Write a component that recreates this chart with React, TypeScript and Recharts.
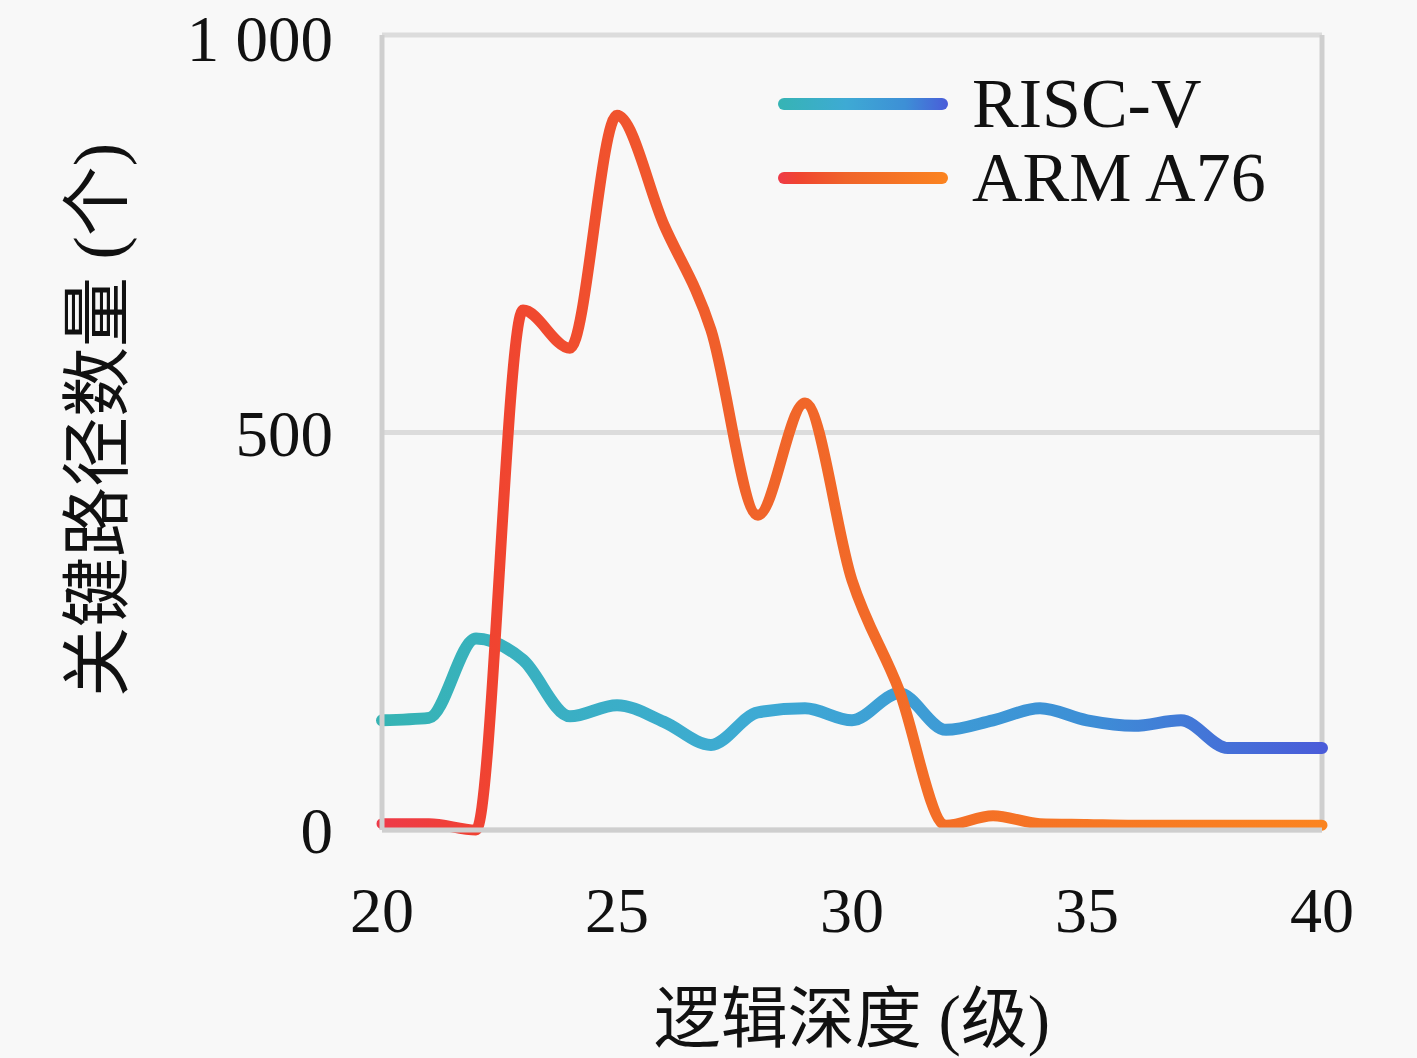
import {
  LineChart,
  Line,
  XAxis,
  YAxis,
  CartesianGrid,
  Legend,
  ReferenceLine,
} from "recharts";

const depth = [20, 21, 22, 23, 24, 25, 26, 27, 28, 29, 30, 31, 32, 33, 34, 35, 36, 37, 38, 39, 40];
const riscV = [138, 141, 241, 214, 143, 157, 136, 107, 148, 153, 138, 172, 126, 138, 153, 138, 131, 138, 103, 103, 103];
const armA76 = [8, 8, 0, 654, 606, 899, 761, 629, 396, 537, 314, 176, 6, 18, 8, 7, 6, 6, 6, 6, 6];

const xTicks = [20, 25, 30, 35, 40];
const yTicks = [0, 500, 1000];

const seriesNames = ["RISC-V", "ARM A76"];

const data = depth.map((d, i) => ({ depth: d, riscV: riscV[i], arm: armA76[i] }));

const FONT = '"Liberation Serif", "Noto Sans CJK SC", serif';
const GRID = "#dcdcdc";
const AXIS = "#cfcfcf";

const riscStops = [
  ["0%", "#36b4b4"],
  ["40%", "#3eaad4"],
  ["75%", "#3d8fd6"],
  ["100%", "#4a5cd9"],
];
const armStops = [
  ["0%", "#ee3a48"],
  ["12%", "#f04430"],
  ["40%", "#f0642a"],
  ["100%", "#fb8420"],
];

function Stops({ stops }: { stops: string[][] }) {
  return (
    <>
      {stops.map(([o, c]) => (
        <stop key={o} offset={o} stopColor={c} />
      ))}
    </>
  );
}

function LegendBox() {
  const rows = [
    { name: seriesNames[0], id: "lgRisc", stops: riscStops },
    { name: seriesNames[1], id: "lgArm", stops: armStops },
  ];
  return (
    <div style={{ fontFamily: FONT }}>
      {rows.map((r) => (
        <div key={r.name} style={{ display: "flex", alignItems: "center", height: 74 }}>
          <svg width={180} height={22} style={{ display: "block" }}>
            <defs>
              <linearGradient id={r.id} x1="0" y1="0" x2="1" y2="0">
                <Stops stops={r.stops} />
              </linearGradient>
            </defs>
            <rect x={5} y={5} width={170} height={12} rx={6} fill={`url(#${r.id})`} />
          </svg>
          <span style={{ fontSize: 70, marginLeft: 19, color: "#111", lineHeight: 1 }}>{r.name}</span>
        </div>
      ))}
    </div>
  );
}

const fmtY = (v: number) => (v === 1000 ? "1 000" : String(v));

export default function App() {
  return (
    <div
      style={{
        position: "absolute",
        left: 0,
        top: 0,
        width: 1417,
        height: 1058,
        background: "#f8f8f8",
      }}
    >
      <LineChart
        width={1417}
        height={1058}
        data={data}
        margin={{ top: 35, right: 95, bottom: 0, left: 0 }}
      >
        <defs>
          <linearGradient id="gRisc" x1="0" y1="0" x2="1" y2="0">
            <Stops stops={riscStops} />
          </linearGradient>
          <linearGradient id="gArm" x1="0" y1="0" x2="1" y2="0">
            <Stops stops={armStops} />
          </linearGradient>
        </defs>
        <CartesianGrid vertical={false} stroke={GRID} strokeWidth={5} />
        <XAxis
          dataKey="depth"
          type="number"
          domain={[20, 40]}
          ticks={xTicks}
          height={228}
          axisLine={{ stroke: AXIS, strokeWidth: 5 }}
          tickLine={false}
          tickSize={0}
          tickMargin={57}
          tick={{ fill: "#111", fontSize: 64, fontFamily: FONT }}
          label={{
            content: (p: any) => {
              const vb = p.viewBox || { x: 382, y: 830, width: 940 };
              return (
                <text
                  x={vb.x + vb.width / 2}
                  y={1042}
                  textAnchor="middle"
                  fontSize={67}
                  fontFamily={FONT}
                  fill="#111"
                >
                  逻辑深度 (级)
                </text>
              );
            },
          }}
        />
        <YAxis
          type="number"
          domain={[0, 1000]}
          ticks={yTicks}
          width={382}
          axisLine={{ stroke: AXIS, strokeWidth: 5 }}
          tickLine={false}
          tickSize={0}
          tickMargin={49}
          tickFormatter={fmtY}
          tick={{ fill: "#111", fontSize: 65, fontFamily: FONT }}
          label={{
            content: () => (
              <text
                x={0}
                y={0}
                transform="translate(122 420) rotate(-90)"
                textAnchor="middle"
                fontSize={70}
                fontFamily={FONT}
                fill="#111"
              >
                关键路径数量 (个)
              </text>
            ),
          }}
        />
        <ReferenceLine x={40} stroke={AXIS} strokeWidth={5} />
        <Legend
          layout="horizontal"
          verticalAlign="middle"
          align="center"
          content={() => <LegendBox />}
          wrapperStyle={{ position: "absolute", left: 773, top: 67, width: 560 }}
        />
        <Line
          name={seriesNames[0]}
          type="monotone"
          dataKey="riscV"
          stroke="url(#gRisc)"
          strokeWidth={12}
          strokeLinecap="round"
          dot={false}
          activeDot={false}
          isAnimationActive={false}
        />
        <Line
          name={seriesNames[1]}
          type="monotone"
          dataKey="arm"
          stroke="url(#gArm)"
          strokeWidth={11}
          strokeLinecap="round"
          dot={false}
          activeDot={false}
          isAnimationActive={false}
        />
      </LineChart>
    </div>
  );
}
